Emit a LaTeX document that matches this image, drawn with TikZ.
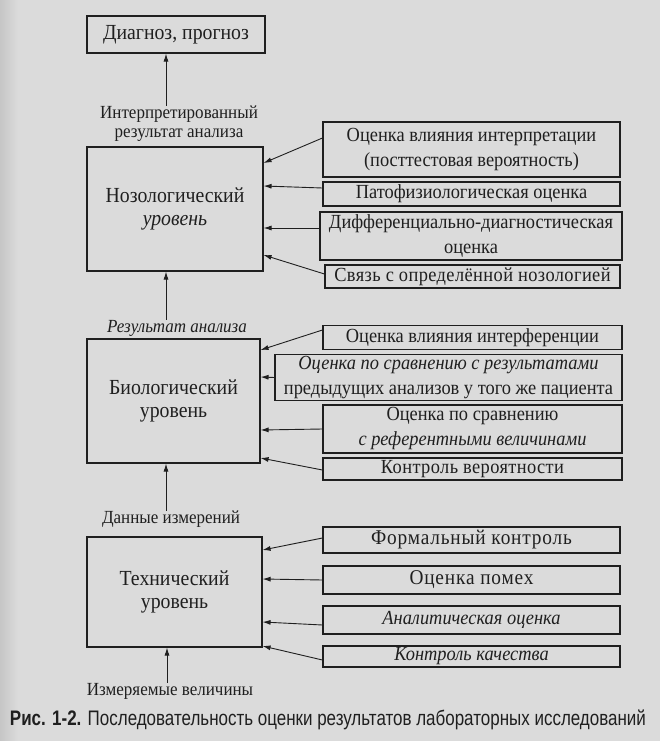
\documentclass[tikz,border=0pt]{standalone}
\usepackage{fontspec}
\setmainfont{Liberation Serif}[FakeStretch=0.92]
\newfontfamily\looseserif{Liberation Serif}[FakeStretch=0.92, LetterSpace=2]
\newfontfamily\wideserif{Liberation Serif}[FakeStretch=0.92, LetterSpace=4]
\newfontfamily\capfont{Liberation Sans}
\usetikzlibrary{arrows.meta,positioning,calc}

\definecolor{paper}{gray}{0.86}
\definecolor{ink}{gray}{0.12}

\tikzset{
  lvl/.style={draw=ink, line width=1.1pt, inner sep=0pt, align=center,
    text=ink, font=\fontsize{21.5}{23}\selectfont},
  crit/.style={draw=ink, line width=1.1pt, inner sep=0pt, align=center,
    text=ink, font=\fontsize{20}{25}\selectfont},
  lbl/.style={inner sep=0pt, align=center, text=ink,
    font=\fontsize{18.5}{19}\selectfont},
  arr/.style={draw=ink, line width=0.9pt, -{Latex[length=8pt,width=5pt]}},
}

\begin{document}
\begin{tikzpicture}[x=1pt,y=-1pt]
      % page of the book, slightly darker at the binding
      \fill[paper] (0,0) rectangle (660,741);
      \shade[left color=gray!45, right color=paper] (0,0) rectangle (18,741);
      \useasboundingbox (0,0) rectangle (660,741);

      % the levels
      \node[lvl, minimum width=178pt, minimum height=37pt] (diag) at (176,34.5)
        {Диагноз, прогноз};
      \node[lvl, minimum width=176pt, minimum height=124pt] (noz) at (175,209)
        {Нозологический\\\textit{уровень}};
      \node[lvl, minimum width=173pt, minimum height=124pt] (bio) at (173.5,401)
        {Биологический\\уровень};
      \node[lvl, minimum width=175pt, minimum height=110pt] (tech) at (174.5,592)
        {Технический\\уровень};

      \node[lbl] (interp) at (179,124) {Интерпретированный\\результат анализа};
      \node[lbl] (res) at (177,328) {\textit{Результат анализа}};
      \node[lbl] (data) at (171,519) {Данные измерений};
      \node[lbl] (meas) at (170,691) {Измеряемые величины};

      \draw[arr] ([xshift=-13pt]interp.north) -- ([xshift=-10pt]diag.south);
      \draw[arr] ([xshift=-11pt]res.north) -- ([xshift=-9pt]noz.south);
      \draw[arr] ([xshift=-5pt]data.north) -- ([xshift=-7.5pt]bio.south);
      \draw[arr] ([xshift=-3pt]meas.north) -- ([xshift=-7.5pt]tech.south);

      % steps of the nosological level
      \node[crit, minimum width=297pt, minimum height=55pt] (n1) at (471.5,149.5)
        {Оценка влияния интерпретации\\(посттестовая вероятность)};
      \node[crit, minimum width=297pt, minimum height=24pt] (n2) at (471.5,194)
        {Патофизиологическая оценка};
      \node[crit, minimum width=302pt, minimum height=48pt] (n3) at (471,236)
        {Дифференциально-диагностическая\\оценка};
      \node[crit, minimum width=295pt, minimum height=23pt] (n4) at (472.5,276.5)
        {\looseserif Связь с определённой нозологией};

      \draw[arr] ([yshift=11.5pt]n1.west) -- ([yshift=46pt]noz.east);
      \draw[arr] ([yshift=6pt]n2.west) -- ([yshift=23pt]noz.east);
      \draw[arr] ([yshift=8pt]n3.west) -- ([yshift=-19pt]noz.east);
      \draw[arr] ([yshift=2.5pt]n4.west) -- ([yshift=-46pt]noz.east);

      % steps of the biological level
      \node[crit, minimum width=299pt, minimum height=24pt] (b1) at (472.5,337.5)
        {Оценка влияния интерференции};
      \node[crit, minimum width=347pt, minimum height=46pt] (b2) at (448.5,377.5)
        {\textit{Оценка по сравнению с результатами}\\предыдущих анализов у того же пациента};
      \node[crit, minimum width=299pt, minimum height=48pt] (b3) at (472.5,429)
        {Оценка по сравнению\\\textit{с референтными величинами}};
      \node[crit, minimum width=299pt, minimum height=22pt] (b4) at (472.5,469)
        {\looseserif Контроль вероятности};

      \draw[arr] ([yshift=7.5pt]b1.west) -- ([yshift=51pt]bio.east);
      \draw[arr] (b2.west) -- ([yshift=24pt]bio.east);
      \draw[arr] (b3.west) -- ([yshift=-29pt]bio.east);
      \draw[arr] ([yshift=-1pt]b4.west) -- ([yshift=-57pt]bio.east);

      % steps of the technical level
      \node[crit, minimum width=297pt, minimum height=26pt, font=\fontsize{21}{25}\selectfont] (t1) at (471.5,540)
        {\wideserif Формальный контроль};
      \node[crit, minimum width=297pt, minimum height=28pt, font=\fontsize{21}{25}\selectfont] (t2) at (471.5,580)
        {\wideserif Оценка помех};
      \node[crit, minimum width=297pt, minimum height=28pt] (t3) at (471.5,620)
        {\textit{Аналитическая оценка}};
      \node[crit, minimum width=297pt, minimum height=21pt] (t4) at (471.5,656.5)
        {\textit{Контроль качества}};

      \draw[arr] ([yshift=2pt]t1.west) -- ([yshift=42pt]tech.east);
      \draw[arr] (t2.west) -- ([yshift=13pt]tech.east);
      \draw[arr] ([yshift=-5pt]t3.west) -- ([yshift=-30pt]tech.east);
      \draw[arr] ([yshift=-3.5pt]t4.west) -- ([yshift=-54pt]tech.east);

      \node[inner sep=0pt, text=ink, font=\capfont\fontsize{21}{21}\selectfont] (cap) at (328,720)
        {\resizebox{636pt}{\height}{\textbf{Рис. 1-2.} Последовательность оценки результатов лабораторных исследований}};
    \end{tikzpicture}
\end{document}
